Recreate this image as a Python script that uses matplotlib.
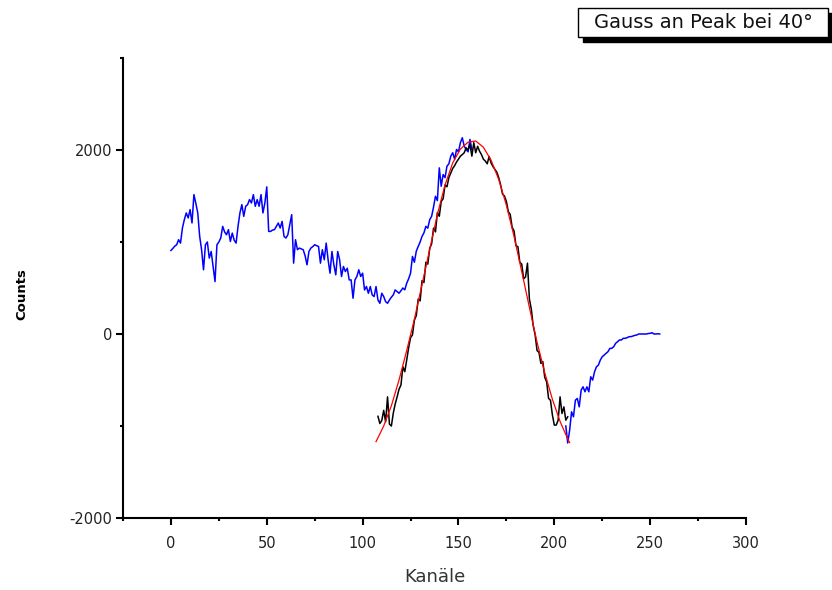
import numpy as np
import matplotlib
matplotlib.use("Agg")
import matplotlib.pyplot as plt
from matplotlib.patches import Rectangle

# ---------------- data ----------------
blue_left_channels = list(range(0, 158))
blue_left_counts = [
    908, 930, 955, 970, 1025, 988, 1152, 1243, 1316, 1261,
    1352, 1207, 1515, 1420, 1316, 1061, 916, 698, 970, 1000,
    825, 897, 734, 570, 970, 1000, 1043, 1170, 1110, 1079,
    1134, 1006, 1097, 1020, 988, 1170, 1316, 1406, 1279, 1388,
    1406, 1461, 1424, 1515, 1388, 1461, 1388, 1515, 1316, 1424,
    1599, 1115, 1115, 1130, 1134, 1170, 1206, 1152, 1224, 1061,
    1043, 1079, 1188, 1297, 770, 1025, 916, 934, 925, 916,
    850, 752, 897, 934, 950, 970, 960, 952, 770, 916,
    807, 988, 807, 661, 897, 752, 643, 897, 807, 625,
    734, 679, 715, 588, 588, 389, 588, 625, 698, 625,
    661, 479, 516, 443, 516, 425, 407, 516, 370, 334,
    443, 407, 352, 334, 370, 400, 425, 479, 461, 443,
    470, 500, 480, 552, 600, 661, 843, 780, 900, 952,
    1000, 1061, 1100, 1170, 1150, 1243, 1279, 1380, 1497, 1450,
    1806, 1606, 1733, 1700, 1824, 1850, 1933, 1970, 1900, 2006,
    1980, 2079, 2133, 2042, 2006, 1980, 2115, 2006,
]
blue_right_channels = list(range(206, 256))
blue_right_counts = [
    -1000, -1185, -1046, -846, -900, -719, -701, -792, -610, -574,
    -628, -574, -628, -465, -501, -410, -356, -338, -283, -247,
    -229, -210, -192, -156, -156, -138, -101, -84, -65, -65,
    -47, -47, -40, -29, -29, -22, -15, -11, 0, 0,
    0, 0, 0, 5, 7, 14, 0, 0, 3, 0,
]

black_channels = list(range(108, 208))
black_counts = [
    -895, -973, -940, -830, -955, -683, -980, -1000, -860, -760,
    -683, -600, -555, -355, -410, -283, -150, -40, -10, 150,
    200, 380, 360, 580, 560, 780, 760, 930, 980, 1150,
    1110, 1320, 1280, 1440, 1470, 1620, 1600, 1700, 1750, 1800,
    1830, 1870, 1900, 1933, 1950, 1970, 2024, 2000, 2060, 1933,
    2079, 1970, 2040, 1987, 1950, 1900, 1880, 1850, 1930, 1860,
    1820, 1790, 1760, 1700, 1620, 1520, 1500, 1440, 1330, 1300,
    1160, 1120, 960, 950, 780, 760, 600, 620, 770, 380,
    270, 90, -10, -180, -200, -320, -300, -470, -520, -700,
    -720, -880, -990, -990, -937, -683, -864, -792, -937, -900,
]

red_channels = [107, 111, 115, 119, 123, 127, 131, 135, 139, 143, 147, 151,
                155, 159, 163, 167, 171, 175, 179, 183, 187, 191, 195, 199,
                203, 207, 208]
red_counts = [-1170, -1000, -780, -500, -180, 160, 540, 920, 1300, 1620,
              1860, 2010, 2085, 2098, 2030, 1890, 1680, 1400, 1060, 680,
              290, -90, -420, -710, -950, -1140, -1180]

x_major = [0, 50, 100, 150, 200, 250, 300]
x_minor = [-25, 25, 75, 125, 175, 225, 275]
y_major = [-2000, 0, 2000]
y_minor = [-1000, 1000, 3000]

title_text = "Gauss an Peak bei 40°"
x_label = "Kanäle"
y_label = "Counts"

# ---------------- figure ----------------
plt.rcParams['font.family'] = ['DejaVu Sans']
plt.rcParams['axes.unicode_minus'] = False
W, H = 832, 590
fig = plt.figure(figsize=(W / 100, H / 100), dpi=100)
ax = fig.add_axes([123 / W, 1 - 518 / H, (746 - 123) / W, (518 - 58) / H])

ax.plot(blue_left_channels, blue_left_counts, color='#0000FF', lw=1.1, zorder=2)
ax.plot(blue_right_channels, blue_right_counts, color='#0000FF', lw=1.1, zorder=2)
ax.plot(black_channels, black_counts, color='black', lw=1.1, zorder=3)
ax.plot(red_channels, red_counts, color='#FF0000', lw=0.9, zorder=4)

ax.set_xlim(-25, 300)
ax.set_ylim(-2000, 3000)
ax.set_xticks(x_major)
ax.set_xticks(x_minor, minor=True)
ax.set_yticks(y_major)
ax.set_yticks(y_minor, minor=True)

for s in ['top', 'right']:
    ax.spines[s].set_visible(False)
for s in ['left', 'bottom']:
    ax.spines[s].set_linewidth(1.5)

ax.tick_params(which='major', direction='out', length=5, width=1.5,
               labelsize=10.5, labelcolor='#222222')
ax.tick_params(axis='x', which='major', pad=8)
ax.tick_params(axis='y', which='major', pad=3)
ax.tick_params(which='minor', direction='out', length=2.5, width=1.5)

ax.set_xlabel(x_label, fontsize=13, color='#333333')
ax.xaxis.label.set_va('center')
ax.xaxis.set_label_coords((435 - 123) / 623, -(577 - 518) / 460)
ax.set_ylabel(y_label, fontsize=9.5, fontweight='bold')
ax.yaxis.label.set_va('center')
ax.yaxis.set_label_coords(-(123 - 22) / 623, (518 - 294) / 460)

# title box with shadow (figure pixel coordinates)
bx0, by0, bx1, by1 = 578, 8, 828, 37
off = 5
fig.patches.append(Rectangle((bx0 + off, H - by1 - off), bx1 - bx0, by1 - by0,
                             transform=None, facecolor='black', edgecolor='black',
                             figure=fig))
fig.patches.append(Rectangle((bx0, H - by1), bx1 - bx0, by1 - by0,
                             transform=None, facecolor='white', edgecolor='black',
                             linewidth=1.0, figure=fig))
fig.text((bx0 + bx1) / 2 / W, 1 - (by0 + by1) / 2 / H, title_text,
         ha='center', va='center', fontsize=14, color='#111111')

fig.savefig('out.png', dpi=100)
